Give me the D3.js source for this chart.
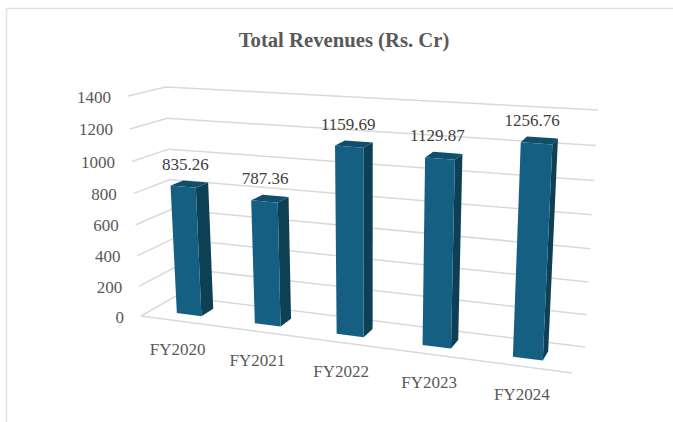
<!DOCTYPE html>
<html><head><meta charset="utf-8">
<script src="https://cdn.jsdelivr.net/npm/d3@7/dist/d3.min.js"></script>
<style>html,body{margin:0;padding:0;background:#fff}svg{display:block}</style>
</head><body><div id="chart"></div>
<script>
const categories = ["FY2020","FY2021","FY2022","FY2023","FY2024"];
const revenues = [835.26,787.36,1159.69,1129.87,1256.76];
const valueLabels = ["835.26","787.36","1159.69","1129.87","1256.76"];
const ticks = [0,200,400,600,800,1000,1200,1400];
const titleText = "Total Revenues (Rs. Cr)";

const W=673,H=422;
const FONT='"Liberation Serif",serif';
const svg=d3.select("#chart").append("svg").attr("width",W).attr("height",H);

// projection: floor quad corners and wall heights (pixels per full axis)
const FL=[141,316],FR=[572,373],BR=[585,347],BL=[176,296];
const wallH=[220,247,237,209];   // FL,FR,BR,BL
function homography(p0,p1,p2,p3){
  const [x0,y0]=p0,[x1,y1]=p1,[x2,y2]=p2,[x3,y3]=p3;
  const dx1=x1-x2,dx2=x3-x2,dx3=x0-x1+x2-x3,dy1=y1-y2,dy2=y3-y2,dy3=y0-y1+y2-y3;
  const den=dx1*dy2-dx2*dy1;
  const g=(dx3*dy2-dx2*dy3)/den,h=(dx1*dy3-dx3*dy1)/den;
  const a=x1-x0+g*x1,b=x3-x0+h*x3,c=x0,d=y1-y0+g*y1,e=y3-y0+h*y3,f=y0;
  return (u,v)=>{const w=g*u+h*v+1;return [(a*u+b*v+c)/w,(d*u+e*v+f)/w];};
}
const floor=homography(FL,FR,BR,BL);
const yFrac=d3.scaleLinear().domain([0,1400]).range([0,1]);
const xBand=d3.scaleBand().domain(categories).range([-0.002,0.998]).paddingInner(0.68).paddingOuter(0.34);
const depth=d3.scaleLinear().domain([0,1]).range([0.30,0.66]);
const VERT=0.058;  // vertical foreshortening
function P(c,d,v){
  const [x,y]=floor(c,d);
  const full=(wallH[0]*(1-c)+wallH[1]*c)*(1-d)+(wallH[3]*(1-c)+wallH[2]*c)*d;
  const f=yFrac(v);
  const h=f/(1+VERT*(1-f))*full;
  return [x+(x-370)*0.000257*h,y-h];
}
const line=d3.line();

// frame
svg.append("path").attr("d",line([[6.5,H],[6.5,8.5],[W,8.5]]))
  .attr("fill","none").attr("stroke","#e2e2e2").attr("stroke-width",1.6);

// gridlines
const grid=svg.append("g").attr("fill","none").attr("stroke","#d9d9d9").attr("stroke-width",1.5);
ticks.forEach(t=>{
  grid.append("path").attr("d",line([P(0,0,t),P(0,1,t),P(1,1,t)]));
});
grid.append("path").attr("d",line([P(0,0,0),P(1,0,0)]));

// bars
const bars=svg.append("g");
categories.forEach((cat,i)=>{
  const v=revenues[i],c0=xBand(cat),c1=c0+xBand.bandwidth(),d0=depth(0),d1=depth(1);
  const g=bars.append("g");
  g.append("path").attr("d",line([P(c1,d0,0),P(c1,d1,0),P(c1,d1,v),P(c1,d0,v)])+"Z").attr("fill","#0d3f55");
  g.append("path").attr("d",line([P(c0,d0,v),P(c1,d0,v),P(c1,d1,v),P(c0,d1,v)])+"Z").attr("fill","#104f6b");
  g.append("path").attr("d",line([P(c0,d0,0),P(c1,d0,0),P(c1,d0,v),P(c0,d0,v)])+"Z").attr("fill","#156082");
});

const txt=svg.append("g").attr("font-family",FONT).attr("fill","#595959");
// y ticks
ticks.forEach(t=>{
  const p=P(0,0,t);
  txt.append("text").attr("x",p[0]-17).attr("y",p[1]+6.5).attr("text-anchor","end")
    .attr("font-size",17).text(t);
});
// category labels and value labels
categories.forEach((cat,i)=>{
  const c=xBand(cat)+xBand.bandwidth()/2;
  const f=P(c,0,0);
  txt.append("text").attr("x",f[0]-1).attr("y",f[1]+34).attr("text-anchor","middle")
    .attr("font-size",17).text(cat);
  const t=P(c,0.5,revenues[i]);
  txt.append("text").attr("x",t[0]-4.5-3.5*c).attr("y",t[1]-14).attr("text-anchor","middle")
    .attr("font-size",17).attr("fill","#404040").text(valueLabels[i]);
});
txt.append("text").attr("x",344).attr("y",47).attr("text-anchor","middle")
  .attr("font-size",20.7).attr("font-weight","bold").text(titleText);
</script></body></html>
